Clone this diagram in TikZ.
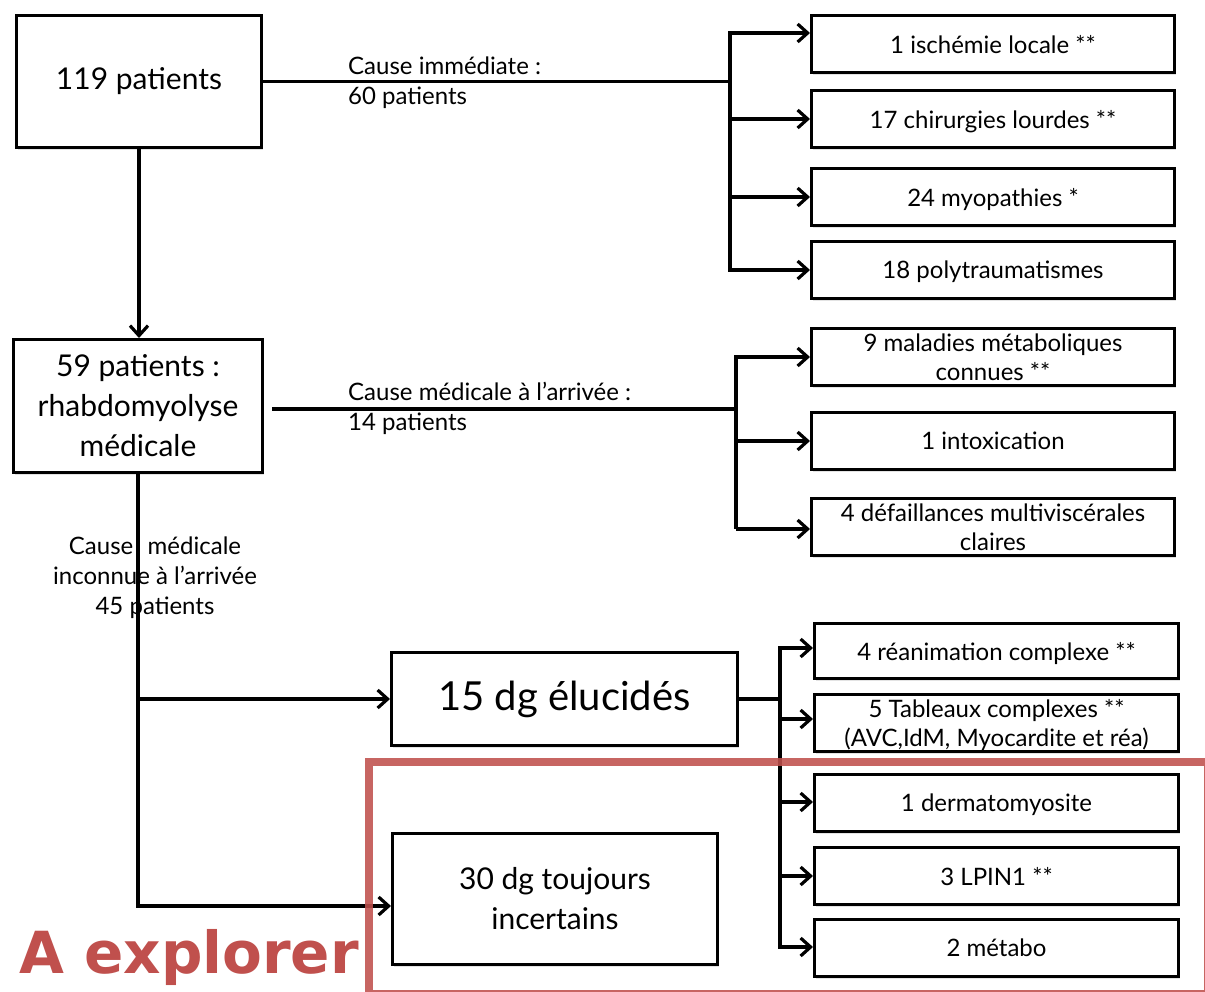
\documentclass[tikz,border=0pt]{standalone}
\usepackage{fontspec}
\setmainfont{Lato}
\newfontfamily\xplfont{DejaVu Sans}
\usetikzlibrary{arrows.meta,shadows,calc}
\definecolor{xred}{HTML}{C0504D}
\newcommand\setfs[2]{\fontsize{#1}{#2}\selectfont}
\begin{document}
\begin{tikzpicture}[x=1pt,y=-1pt,
  box/.style={draw=black, line width=3pt, fill=white, align=center, inner sep=2pt,
    drop shadow={shadow xshift=1.5pt, shadow yshift=-2.5pt, opacity=0.22}},
  small/.style={font=\setfs{24}{29}, text depth=0pt},
  big/.style={font=\setfs{30}{40}},
  conn/.style={draw=black, line width=3.2pt},
  arr/.style={conn, -{Straight Barb[length=10pt,width=18pt]}},
  lbl/.style={font=\setfs{24}{30}, inner sep=0pt}]
\useasboundingbox (0,0) rectangle (1205,991);
\fill[white] (0,0) rectangle (1205,991);

% main boxes
\node[box, big, minimum width=245pt, minimum height=132pt] (b1) at (139,81.5) {119 patients};
\node[box, big, minimum width=249pt, minimum height=133pt] (b2) at (138,406) {59 patients :\\rhabdomyolyse\\médicale};
\node[box, font=\setfs{40}{48}, minimum width=346pt, minimum height=93pt] (b3) at (564.5,699) {15 dg élucidés};
\node[box, big, minimum width=325pt, minimum height=131pt] (b4) at (555,899) {30 dg toujours\\incertains};

% right boxes, group 1
\node[box, small, minimum width=363pt, minimum height=57pt] (r1) at (993,44) {1 ischémie locale **};
\node[box, small, minimum width=363pt, minimum height=57pt] (r2) at (993,119) {17 chirurgies lourdes **};
\node[box, small, minimum width=363pt, minimum height=57pt] (r3) at (993,197) {24 myopathies *};
\node[box, small, minimum width=363pt, minimum height=57pt] (r4) at (993,270) {18 polytraumatismes};
% group 2
\node[box, small, minimum width=363pt, minimum height=57pt] (r5) at (993,357) {9 maladies métaboliques\\connues **};
\node[box, small, minimum width=363pt, minimum height=57pt] (r6) at (993,441) {1 intoxication};
\node[box, small, minimum width=363pt, minimum height=57pt] (r7) at (993,527) {4 défaillances multiviscérales\\claires};
% group 3
\node[box, small, minimum width=364pt, minimum height=55pt] (r8) at (996.5,651) {4 réanimation complexe **};
\node[box, small, minimum width=364pt, minimum height=57pt] (r9) at (996.5,723) {5 Tableaux complexes **\\(AVC,IdM, Myocardite et réa)};
\node[box, small, minimum width=364pt, minimum height=57pt] (r10) at (996.5,803) {1 dermatomyosite};
\node[box, small, minimum width=364pt, minimum height=57pt] (r11) at (996.5,876) {3 LPIN1 **};
\node[box, small, minimum width=364pt, minimum height=57pt] (r12) at (996.5,948) {2 métabo};

% labels
\node[lbl, anchor=west, align=left] (l1) at (348,83) {Cause immédiate :\\60 patients};
\node[lbl, anchor=west, align=left] (l2) at (348,408) {Cause médicale à l’arrivée :\\14 patients};

% connectors group 1
\coordinate (k1) at (730,81.5);
\draw[conn] (b1.east) -- (k1);
\draw[conn, line cap=rect] (k1 |- 0,33) -- (k1 |- 0,270);
\draw[arr] (k1 |- 0,33) -- (r1.west |- 0,33);
\draw[arr] (k1 |- r2.west) -- (r2.west);
\draw[arr] (k1 |- r3.west) -- (r3.west);
\draw[arr] (k1 |- r4.west) -- (r4.west);

% trunk
\draw[arr] (b1.south) -- (b1.south |- b2.north);

% group 2
\coordinate (k2) at (736,409);
\draw[conn] ($(b2.east |- k2)+(8,0)$) -- (k2);
\draw[conn, line cap=rect] (k2 |- r5.west) -- (k2 |- r7.west);
\draw[arr] (k2 |- r5.west) -- (r5.west);
\draw[arr] (k2 |- r6.west) -- (r6.west);
\draw[arr] (k2 |- 0,529) -- (r7.west |- 0,529);

% lower trunk
\coordinate (t1) at (138,699);
\coordinate (t2) at (138,906);
\draw[arr] (b2.south) |- (b4.west |- t2);
\draw[arr] (t1) -- (b3.west);
\node[lbl, align=center, fill=none] (l3) at (155,578) {Cause\hspace{0.6em}médicale\\inconnue à l’arrivée\\45 patients};

% group 3
\coordinate (k3) at (780,699);
\draw[conn] (b3.east) -- (k3);
\draw[conn, line cap=rect] (k3 |- 0,648) -- (k3 |- 0,947);
\draw[arr] (k3 |- 0,648) -- (r8.west |- 0,648);
\draw[arr] (k3 |- 0,719) -- (r9.west |- 0,719);
\draw[arr] (k3 |- 0,802) -- (r10.west |- 0,802);
\draw[arr] (k3 |- 0,876) -- (r11.west |- 0,876);
\draw[arr] (k3 |- 0,947) -- (r12.west |- 0,947);

% red frame and title
\draw[xred, line width=8pt, opacity=0.88] (369,761.5) rectangle (1207.5,993.5);
\node[anchor=base west, inner sep=0pt, text=xred, font=\xplfont\bfseries\setfs{58}{58}] (ax) at (19,973) {A explorer};
\end{tikzpicture}
\end{document}
